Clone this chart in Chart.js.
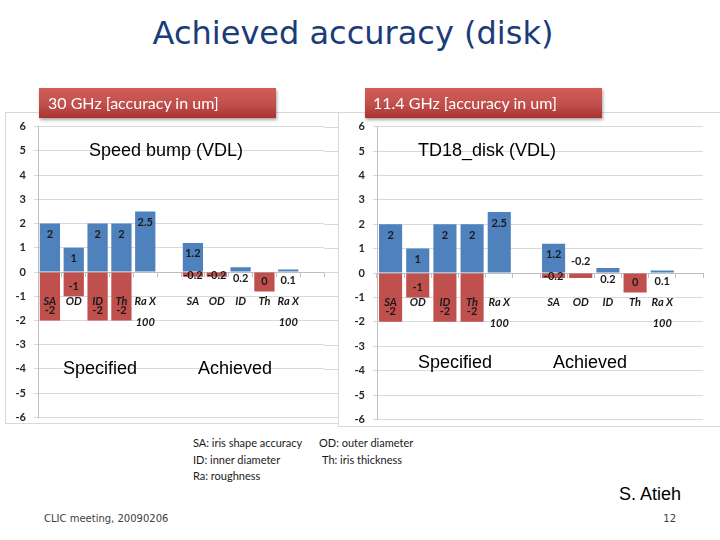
<!DOCTYPE html>
<html>
<head>
<meta charset="utf-8">
<script src="https://cdn.jsdelivr.net/npm/chart.js@4.4.0/dist/chart.umd.min.js"></script>
<style>
  body { margin: 0; width: 720px; height: 540px; background: #fff; position: relative; overflow: hidden; }
  .t { position: absolute; white-space: nowrap; line-height: 20px; }
  #title { left: 0; width: 706px; top: 13px; text-align: center; font-family: 'DejaVu Sans', sans-serif; font-size: 32px; line-height: 40px; color: #1a3c78; }
  .panel { position: absolute; border: 1px solid #d9d9d9; box-sizing: border-box; background: #fff; }
  canvas { position: absolute; }
  .hdr { position: absolute; top: 88px; height: 30px; width: 237px; box-sizing: border-box; padding-left: 9px;
         background: linear-gradient(#d35c57, #c0504d 55%, #a9332f); color: #fff; font-family: Lato, sans-serif;
         font-size: 16px; line-height: 30px; box-shadow: 1px 2px 3px rgba(0,0,0,0.35); }
  .big { font-family: 'Liberation Sans', Arial, sans-serif; font-size: 18px; color: #000; }
  .note { font-family: Lato, sans-serif; font-size: 11px; color: #1a1a1a; line-height: 14px; }
  .foot { font-family: 'DejaVu Sans', sans-serif; font-size: 10px; color: #404040; line-height: 14px; }
</style>
</head>
<body>
<div id="title" class="t">Achieved accuracy (disk)</div>

<div class="panel" style="left:5px; top:112px; width:334px; height:312px;"></div>
<div class="panel" style="left:338px; top:112px; width:390px; height:315px;"></div>
<canvas id="leftChart" width="333" height="320" style="left:5px; top:112px;"></canvas>
<canvas id="rightChart" width="367" height="322" style="left:338px; top:112px;"></canvas>

<div class="hdr" style="left:39px;">30 GHz [accuracy in um]</div>
<div class="hdr" style="left:365px; padding-left:8px;">11.4 GHz [accuracy in um]</div>

<div class="t big" style="left:89px; top:140px;">Speed bump (VDL)</div>
<div class="t big" style="left:418px; top:140px;">TD18_disk (VDL)</div>
<div class="t big" style="left:63px; top:358px;">Specified</div>
<div class="t big" style="left:198px; top:358px;">Achieved</div>
<div class="t big" style="left:418px; top:352px;">Specified</div>
<div class="t big" style="left:553px; top:352px;">Achieved</div>

<div class="t note" style="left:193px; top:436px;">SA: iris shape accuracy</div>
<div class="t note" style="left:319px; top:436px;">OD: outer diameter</div>
<div class="t note" style="left:193px; top:453px;">ID: inner diameter</div>
<div class="t note" style="left:322px; top:453px;">Th: iris thickness</div>
<div class="t note" style="left:193px; top:469px;">Ra: roughness</div>

<div class="t big" style="left:619px; top:484px;">S. Atieh</div>
<div class="t foot" style="left:44px; top:512px;">CLIC meeting, 20090206</div>
<div class="t foot" style="left:640px; width:36px; text-align:right; top:512px;">12</div>

<script>
// categories: five specified, a gap, five achieved, a gap
const categories = ['SA', 'OD', 'ID', 'Th', ['Ra X', '100'], '', 'SA', 'OD', 'ID', 'Th', ['Ra X', '100'], ''];

// 30 GHz speed bump
const bumpPlus = [2, 1, 2, 2, 2.5, null, 1.2, 0, 0.2, 0, 0.1, null];
const bumpMinus = [-2, -1, -2, -2, null, null, -0.2, -0.2, 0, -0.8, null, null];
const bumpPlusText = ['2', '1', '2', '2', '2.5', null, '1.2', null, '0.2', null, '0.1', null];
const bumpMinusText = ['-2', '-1', '-2', '-2', null, null, '-0.2', '-0.2', null, '0', null, null];

// 11.4 GHz TD18 disk
const tdPlus = [2, 1, 2, 2, 2.5, null, 1.2, 0, 0.2, null, 0.1, null];
const tdMinus = [-2, -1, -2, -2, null, null, -0.2, -0.2, null, -0.8, null, null];
const tdPlusText = ['2', '1', '2', '2', '2.5', null, '1.2', '-0.2', '0.2', null, '0.1', null];
const tdMinusText = ['-2', '-1', '-2', '-2', null, null, '-0.2', null, null, '0', null, null];

const yMin = -6;
const yMax = 6;

// value labels drawn next to each bar end
const valueLabels = {
    id: 'valueLabels',
    afterDatasetsDraw(chart) {
        const ctx = chart.ctx;
        const zero = chart.scales.y.getPixelForValue(0);
        ctx.save();
        ctx.font = 'bold 11px Lato';
        ctx.fillStyle = '#1a1a1a';
        ctx.textAlign = 'center';
        ctx.textBaseline = 'middle';
        chart.data.datasets.forEach((ds, i) => {
            chart.getDatasetMeta(i).data.forEach((bar, j) => {
                const text = ds.valueText[j];
                if (text == null) return;
                const v = ds.data[j];
                let y;
                if (v > 0) y = bar.y + 11;
                else if (v < 0) y = Math.max(bar.y - 10, zero + 3);
                else y = zero - 12;
                ctx.fillText(text, bar.x, y);
            });
        });
        ctx.restore();
    }
};

// carry the horizontal grid a little past the last category
const gridExtend = {
    id: 'gridExtend',
    beforeDatasetsDraw(chart, args, opts) {
        if (!opts.to) return;
        const { ctx, chartArea, scales: { y } } = chart;
        ctx.save();
        ctx.strokeStyle = '#d9d9d9';
        ctx.lineWidth = 1;
        y.ticks.forEach(t => {
            const py = Math.round(y.getPixelForValue(t.value)) + 0.5;
            ctx.beginPath();
            ctx.moveTo(chartArea.right, py);
            ctx.lineTo(opts.to, py);
            ctx.stroke();
        });
        ctx.restore();
    }
};

function makeChart(id, plus, minus, plusText, minusText, axisWidth, padding, extendTo) {
    new Chart(document.getElementById(id).getContext('2d'), {
        type: 'bar',
        data: {
            labels: categories,
            datasets: [{
                data: plus,
                valueText: plusText,
                backgroundColor: '#4f81bd',
                barPercentage: 0.85,
                categoryPercentage: 1
            }, {
                data: minus,
                valueText: minusText,
                backgroundColor: '#c0504d',
                barPercentage: 0.85,
                categoryPercentage: 1
            }]
        },
        options: {
            responsive: false,
            animation: false,
            events: [],
            layout: { padding: padding },
            plugins: {
                legend: { display: false },
                tooltip: { enabled: false },
                gridExtend: { to: extendTo }
            },
            scales: {
                x: {
                    stacked: true,
                    position: { y: 0 },
                    grid: { drawOnChartArea: false, drawTicks: true, tickLength: 4, offset: true, color: '#bfbfbf' },
                    border: { color: '#bfbfbf' },
                    ticks: {
                        z: 1,  // category names sit on top of the bars
                        autoSkip: false,
                        maxRotation: 0,
                        padding: 15,
                        color: '#1a1a1a',
                        font: { family: 'Lato', size: 11, style: 'italic', weight: 'bold', lineHeight: 1.9 }
                    }
                },
                y: {
                    stacked: true,
                    min: yMin,
                    max: yMax,
                    afterFit(scale) { scale.width = axisWidth; },
                    grid: { color: '#d9d9d9', tickLength: 4 },
                    border: { color: '#bfbfbf' },
                    ticks: {
                        stepSize: 0.5,
                        padding: 8,
                        color: '#262626',
                        font: { family: 'Lato', size: 11, weight: 'bold' },
                        callback: v => Number.isInteger(v) ? String(v) : ''
                    }
                }
            }
        },
        plugins: [gridExtend, valueLabels]
    });
}

makeChart('leftChart', bumpPlus, bumpMinus, bumpPlusText, bumpMinusText, 33,
    { top: 14, right: 14, bottom: 6, left: 0 }, 333);
makeChart('rightChart', tdPlus, tdMinus, tdPlusText, tdMinusText, 39,
    { top: 14, right: 2, bottom: 8, left: 0 }, 0);
</script>
</body>
</html>
